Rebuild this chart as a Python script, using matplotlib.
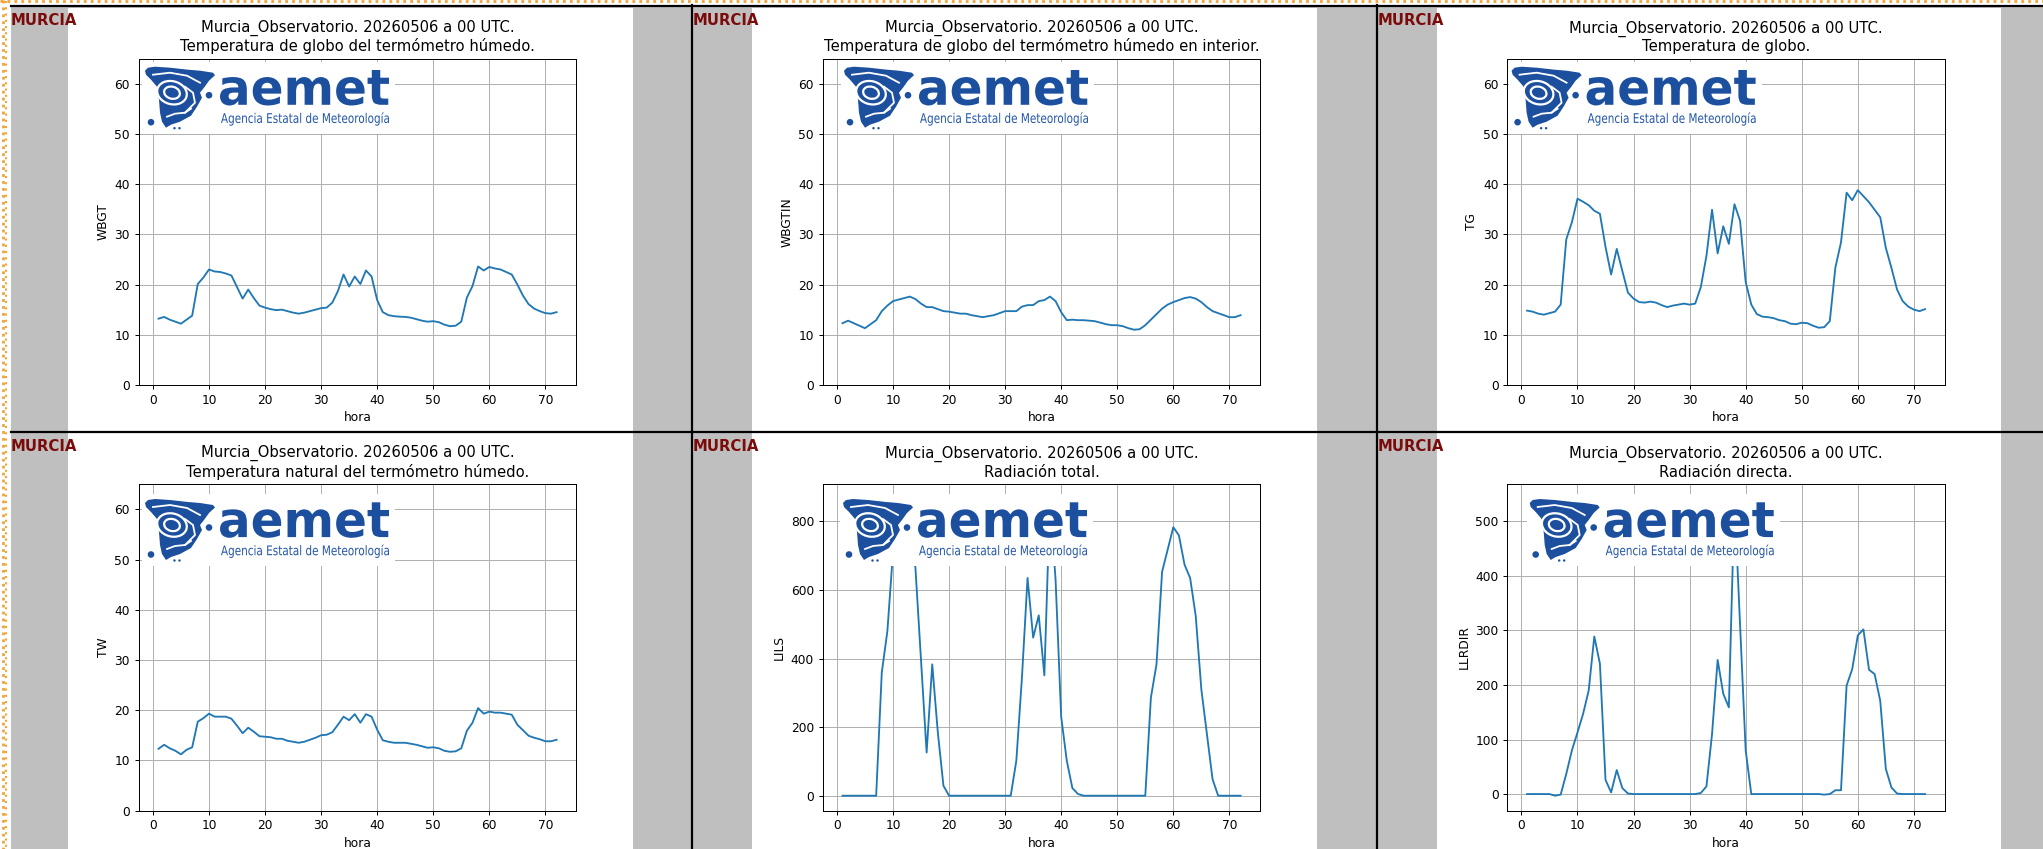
import numpy as np
import matplotlib
matplotlib.use('Agg')
import matplotlib.pyplot as plt
from matplotlib.patches import Rectangle, Polygon, Ellipse, Circle, PathPatch
from matplotlib.lines import Line2D
from matplotlib.transforms import Affine2D
from matplotlib.textpath import TextPath
from matplotlib.font_manager import FontProperties
from matplotlib.path import Path

# ---------------- data ----------------
hours = list(range(1, 73))

wbgt = [13.2, 13.55, 13.0, 12.6, 12.2, 13.0, 13.8, 20.1, 21.4, 23.0,
        22.6, 22.5, 22.2, 21.8, 19.5, 17.2, 19.0, 17.3, 15.8, 15.4,
        15.1, 14.9, 15.0, 14.7, 14.4, 14.2, 14.4, 14.7, 15.0, 15.3,
        15.4, 16.4, 18.7, 22.0, 19.6, 21.6, 20.1, 22.8, 21.6, 16.9,
        14.5, 13.9, 13.7, 13.6, 13.55, 13.4, 13.1, 12.8, 12.6, 12.7,
        12.5, 12.0, 11.7, 11.8, 12.6, 17.4, 19.7, 23.6, 22.8, 23.5,
        23.2, 23.0, 22.5, 22.0, 20.0, 17.8, 16.1, 15.2, 14.7, 14.3,
        14.2, 14.5]

wbgtin = [12.3, 12.8, 12.3, 11.8, 11.3, 12.1, 12.9, 14.7, 15.8, 16.7,
          17.0, 17.3, 17.6, 17.1, 16.2, 15.5, 15.5, 15.1, 14.7, 14.6,
          14.4, 14.2, 14.2, 13.9, 13.7, 13.5, 13.7, 13.9, 14.3, 14.7,
          14.7, 14.7, 15.6, 15.9, 15.9, 16.7, 16.9, 17.6, 16.7, 14.5,
          12.9, 13.0, 12.9, 12.9, 12.8, 12.7, 12.4, 12.1, 11.9, 11.9,
          11.7, 11.3, 11.0, 11.1, 11.9, 13.0, 14.1, 15.2, 16.0, 16.5,
          16.9, 17.3, 17.5, 17.2, 16.5, 15.5, 14.7, 14.3, 13.9, 13.5,
          13.5, 13.9]

tg = [14.8, 14.6, 14.2, 14.0, 14.3, 14.6, 16.0, 29.0, 32.4, 37.1,
      36.5, 35.8, 34.7, 34.1, 27.5, 22.0, 27.1, 22.7, 18.4, 17.2,
      16.5, 16.4, 16.6, 16.4, 15.9, 15.5, 15.8, 16.0, 16.2, 16.0,
      16.2, 19.5, 25.7, 34.9, 26.2, 31.6, 28.1, 36.0, 32.7, 20.5,
      16.0, 14.1, 13.6, 13.5, 13.3, 12.9, 12.7, 12.2, 12.1, 12.4,
      12.3, 11.8, 11.4, 11.5, 12.7, 23.4, 28.4, 38.3, 36.8, 38.8,
      37.6, 36.4, 34.9, 33.4, 27.3, 23.3, 19.0, 16.7, 15.6, 15.0,
      14.7, 15.1]

tw = [12.3, 13.1, 12.4, 11.9, 11.2, 12.1, 12.6, 17.7, 18.4, 19.3,
      18.7, 18.7, 18.7, 18.3, 16.9, 15.4, 16.5, 15.7, 14.8, 14.7,
      14.6, 14.3, 14.3, 13.9, 13.7, 13.5, 13.7, 14.1, 14.5, 15.0,
      15.1, 15.6, 17.1, 18.7, 18.0, 19.2, 17.5, 19.2, 18.7, 16.1,
      14.0, 13.7, 13.5, 13.5, 13.5, 13.3, 13.1, 12.8, 12.5, 12.6,
      12.4, 11.9, 11.7, 11.8, 12.4, 15.9, 17.5, 20.4, 19.3, 19.7,
      19.5, 19.5, 19.3, 19.1, 17.1, 16.0, 14.9, 14.5, 14.2, 13.8,
      13.8, 14.1]

lils = [0, 0, 0, 0, 0, 0, 0, 359, 480, 710,
        790, 830, 790, 665, 395, 126, 383, 184, 29, 0,
        0, 0, 0, 0, 0, 0, 0, 0, 0, 0,
        0, 102, 344, 635, 461, 526, 351, 865, 630, 230,
        102, 22, 5, 0, 0, 0, 0, 0, 0, 0,
        0, 0, 0, 0, 0, 286, 383, 653, 718, 783,
        759, 674, 635, 524, 310, 179, 48, 0, 0, 0,
        0, 0]

llrdir = [0, 0, 0, 0, 0, -3, -1, 37, 80, 113,
          147, 190, 289, 239, 26, 3, 44, 11, 1, 0,
          0, 0, 0, 0, 0, 0, 0, 0, 0, 0,
          0, 2, 14, 110, 246, 184, 159, 541, 310, 80,
          0, 0, 0, 0, 0, 0, 0, 0, 0, 0,
          0, 0, 0, -1, 0, 7, 7, 199, 229, 291,
          302, 228, 220, 171, 46, 12, 1, 0, 0, 0,
          0, 0]

header = "Murcia_Observatorio. 20260506 a 00 UTC."
subtitles = ["Temperatura de globo del termómetro húmedo.",
             "Temperatura de globo del termómetro húmedo en interior.",
             "Temperatura de globo.",
             "Temperatura natural del termómetro húmedo.",
             "Radiación total.",
             "Radiación directa."]
ylabels = ["WBGT", "WBGTIN", "TG", "TW", "LILS", "LLRDIR"]
series = [wbgt, wbgtin, tg, tw, lils, llrdir]
temp_ylim = [True, True, True, True, False, False]
xlabel = "hora"
station = "MURCIA"

# ---------------- page layout ----------------
W, H = 2043, 849
fig = plt.figure(figsize=(W / 100, H / 100), dpi=100)
fig.patch.set_facecolor('white')
T = Affine2D().scale(1.0 / W, -1.0 / H).translate(0, 1) + fig.transFigure

s = 0.8828                     # scale of each embedded 640x480 chart
img_left = [68.0, 752.0, 1436.5]
img_top = [7.8, 433.4]
img_w, img_h = 640 * s, 480 * s
cell_left = [11.0, 693.0, 1377.5]
logo_pos = [(145, 66.7), (844, 66.7), (1511.6, 66.7),
            (145, 499.0), (843, 499.0), (1529.7, 499.0)]
BLUE = '#1d4f9f'

# gray page background and white chart images
fig.add_artist(Rectangle((11, 7), W - 11, H - 7, transform=T, fc='#bfbfbf',
                         ec='none', zorder=-3))
for r in range(2):
    for c in range(3):
        fig.add_artist(Rectangle((img_left[c], img_top[r]), img_w, img_h,
                                 transform=T, fc='white', ec='none', zorder=-2))

# orange dotted page border
fig.add_artist(Line2D([0, W], [1.5, 1.5], transform=T, color='#f2a43a', lw=2.0,
                      ls=(0, (1.0, 1.5)), zorder=8))
fig.add_artist(Line2D([2.5, 2.5], [0, H], transform=T, color='#f2a43a', lw=2.0,
                      ls=(0, (1.0, 1.5)), zorder=8))
fig.add_artist(Line2D([6.0, 6.0], [1.5, H], transform=T, color='#f2a43a', lw=1.5,
                      ls=(0, (1.0, 2.0)), zorder=8))

# black table lines
for y in [6.0, 432.3]:
    fig.add_artist(Line2D([11, W], [y, y], transform=T, color='black', lw=1.6, zorder=8))
for x in [692.0, 1376.5]:
    fig.add_artist(Line2D([x, x], [5, H], transform=T, color='black', lw=1.6, zorder=8))


def fit_text(txt, prop, x0, x1, ytop, ybot, color):
    tp = TextPath((0, 0), txt, size=100, prop=prop)
    bb = tp.get_extents()
    sx = (x1 - x0) / bb.width
    sy = (ybot - ytop) / bb.height
    tr = Affine2D().translate(-bb.x0, -bb.y0).scale(sx, -sy).translate(x0, ybot) + T
    fig.add_artist(PathPatch(tp, transform=tr, fc=color, ec='none', zorder=6))


def fit_text_cap(txt, prop, x0, x1, captop, baseline, color):
    tp = TextPath((0, 0), txt, size=100, prop=prop)
    bb = tp.get_extents()
    cap = TextPath((0, 0), "A", size=100, prop=prop).get_extents().y1
    sx = (x1 - x0) / bb.width
    sy = (baseline - captop) / cap
    tr = Affine2D().translate(-bb.x0, 0).scale(sx, -sy).translate(x0, baseline) + T
    fig.add_artist(PathPatch(tp, transform=tr, fc=color, ec='none', zorder=6))


def draw_logo(bx, by):
    fig.add_artist(Rectangle((bx - 3, by - 5), 253, 72, transform=T,
                             fc='white', ec='none', zorder=5))
    pts = [(0, 4), (3, 1), (10, 0), (25, 1), (43, 3), (55, 4), (68, 6), (70, 8.5),
           (64, 14), (59, 21), (55, 26), (57, 31), (52, 40), (46, 49), (35, 55),
           (26, 58), (21, 61), (17, 55), (15, 46), (14, 33), (12, 20), (6, 13), (1, 8)]
    pts = [(bx + x, by + y) for x, y in pts]
    fig.add_artist(Polygon(pts, closed=True, transform=T, fc=BLUE, ec='none', zorder=6))
    for (cx, cy, rr) in [(6, 55.5, 3.3), (64, 28.5, 3.3), (29.5, 61.5, 1.2), (34.5, 61.5, 1.2)]:
        fig.add_artist(Circle((bx + cx, by + cy), rr, transform=T, fc=BLUE,
                              ec='none', zorder=6))
    for (w, h) in [(30, 23), (16, 12)]:
        fig.add_artist(Ellipse((bx + 27, by + 26), w, h, angle=15, transform=T,
                               fc='none', ec='white', lw=1.6, zorder=7))
    curves = [[(8, 8), (25, 6), (42, 9), (55, 16)],
              [(40, 20), (48, 26), (50, 36), (40, 46)],
              [(22, 50), (30, 47), (40, 46), (46, 42)]]
    for cv in curves:
        xs = [bx + p[0] for p in cv]
        ys = [by + p[1] for p in cv]
        fig.add_artist(Line2D(xs, ys, transform=T, color='white', lw=1.3, zorder=7))
    fit_text("aemet", FontProperties(family='DejaVu Sans', weight='bold'),
             bx + 75, bx + 244, by + 3.3, by + 38.8, BLUE)
    fit_text_cap("Agencia Estatal de Meteorología", FontProperties(family='DejaVu Sans'),
                 bx + 76, bx + 244, by + 46.5, by + 56.2, '#2356a8')


# ---------------- the six charts ----------------
for i in range(6):
    r, c = divmod(i, 3)
    L = img_left[c] + 80 * s
    R = img_left[c] + 576 * s
    Tp = img_top[r] + 57.6 * s
    B = img_top[r] + 427.2 * s
    ax = fig.add_axes([L / W, 1 - B / H, (R - L) / W, (B - Tp) / H])
    ax.plot(hours, series[i], color='#1f77b4', lw=1.5 * s)
    if temp_ylim[i]:
        ax.set_ylim(0, 65)
    ax.grid(True, color='#b0b0b0', lw=0.8 * s)
    ax.set_axisbelow(True)
    ax.set_title(header + "\n" + subtitles[i], fontsize=12 * s, pad=6 * s)
    ax.set_xlabel(xlabel, fontsize=10 * s, labelpad=4 * s)
    ax.set_ylabel(ylabels[i], fontsize=10 * s, labelpad=4 * s)
    ax.tick_params(labelsize=10 * s, length=3.5 * s, width=0.8 * s, pad=3.5 * s)
    for sp in ax.spines.values():
        sp.set_linewidth(0.8 * s)
    # station label of the table cell
    fig.text(cell_left[c] / W, 1 - (img_top[r] + 13.0) / H, station,
             fontsize=10.7, fontweight='bold', color='#7b0a0a',
             ha='left', va='center', zorder=9)
    draw_logo(*logo_pos[i])

fig.savefig('out.png', dpi=100)
